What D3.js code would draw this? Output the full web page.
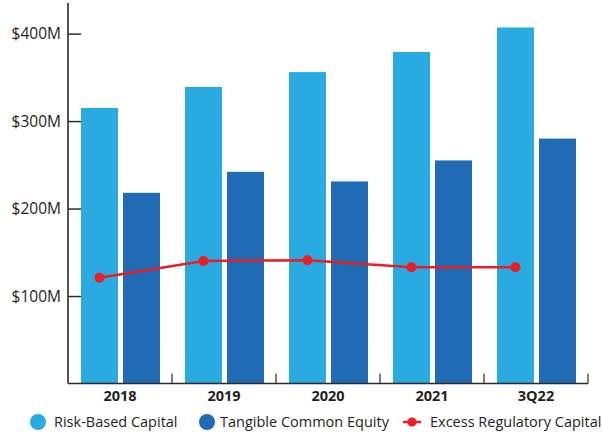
<!DOCTYPE html>
<html>
<head>
<meta charset="utf-8">
<script src="https://cdn.jsdelivr.net/npm/d3@7"></script>
<style>
  html, body { margin: 0; padding: 0; background: #fff; }
  svg { display: block; }
  text { font-family: "Open Sans", "Lato", sans-serif; fill: #231f20; }
</style>
</head>
<body>
<svg id="chart" width="603" height="437"></svg>
<script>
// Capital figures, $ millions
const categories = ["2018", "2019", "2020", "2021", "3Q22"];
const riskBasedCapital = [315, 339, 356, 379, 407];
const tangibleCommonEquity = [218, 242, 231, 255, 280];
const excessRegulatoryCapital = [121, 140, 141, 133, 133];
const yTicks = [100, 200, 300, 400];
const yTickLabels = ["$100M", "$200M", "$300M", "$400M"];

const colors = { rbc: "#29abe2", tce: "#1f6bb4", erc: "#ed1c24", axis: "#2b2b2b" };

const svg = d3.select("#chart");
const plotLeft = 68, plotRight = 588, plotBottom = 383.5, plotTop = 3;

const x = d3.scaleBand().domain(categories).range([plotLeft, plotRight]).paddingInner(0).paddingOuter(0);
const y = d3.scaleLinear().domain([0, 435]).range([plotBottom, plotTop]);

// inner layout of each category slot
const barW = 37, gap = 5, pad = 13;
const xRbc = c => x(c) + pad;
const xTce = c => x(c) + pad + barW + gap;

// bars
svg.append("g").selectAll("rect").data(categories).join("rect")
  .attr("x", c => xRbc(c)).attr("width", barW)
  .attr("y", (c, i) => y(riskBasedCapital[i]))
  .attr("height", (c, i) => y(0) - y(riskBasedCapital[i]))
  .attr("fill", colors.rbc);

svg.append("g").selectAll("rect").data(categories).join("rect")
  .attr("x", c => xTce(c)).attr("width", barW)
  .attr("y", (c, i) => y(tangibleCommonEquity[i]))
  .attr("height", (c, i) => y(0) - y(tangibleCommonEquity[i]))
  .attr("fill", colors.tce);

// y axis: line with inward ticks
const yAxis = d3.axisRight(y).tickValues(yTicks).tickSize(13).tickFormat("");
const gy = svg.append("g").attr("transform", `translate(${plotLeft},0)`).call(yAxis);
gy.select(".domain").remove();
gy.selectAll(".tick line").attr("stroke", colors.axis).attr("stroke-width", 1.5);
svg.append("line").attr("x1", plotLeft).attr("x2", plotLeft).attr("y1", plotTop).attr("y2", plotBottom)
  .attr("stroke", colors.axis).attr("stroke-width", 1.6);

svg.append("g").selectAll("text").data(yTicks).join("text")
  .attr("x", 61).attr("y", d => y(d)).attr("dy", "0.36em")
  .attr("text-anchor", "end").attr("font-size", 15.5)
  .text((d, i) => yTickLabels[i]);

// x axis: baseline with upward ticks at slot boundaries
svg.append("line").attr("x1", plotLeft).attr("x2", plotRight).attr("y1", plotBottom).attr("y2", plotBottom)
  .attr("stroke", colors.axis).attr("stroke-width", 1.6);
svg.append("g").selectAll("line").data(categories).join("line")
  .attr("x1", c => x(c) + x.bandwidth()).attr("x2", c => x(c) + x.bandwidth())
  .attr("y1", plotBottom).attr("y2", plotBottom - 10)
  .attr("stroke", colors.axis).attr("stroke-width", 1.2);

svg.append("g").selectAll("text").data(categories).join("text")
  .attr("x", c => x(c) + x.bandwidth() / 2).attr("y", 396).attr("dy", "0.36em")
  .attr("text-anchor", "middle").attr("font-size", 14.5).attr("font-weight", 700)
  .text(c => c);

// excess regulatory capital line
const line = d3.line()
  .x((d, i) => xRbc(categories[i]) + barW / 2)
  .y(d => y(d));
svg.append("path").datum(excessRegulatoryCapital)
  .attr("d", line).attr("fill", "none")
  .attr("stroke", colors.erc).attr("stroke-width", 2.5);
svg.append("g").selectAll("circle").data(excessRegulatoryCapital).join("circle")
  .attr("cx", (d, i) => xRbc(categories[i]) + barW / 2)
  .attr("cy", d => y(d)).attr("r", 5)
  .attr("fill", colors.erc);

// legend
const legendY = 422;
const lg = svg.append("g");
lg.append("circle").attr("cx", 38).attr("cy", legendY).attr("r", 8).attr("fill", colors.rbc);
lg.append("text").attr("x", 54).attr("y", legendY).attr("dy", "0.36em").attr("font-size", 14.5).text("Risk-Based Capital");
lg.append("circle").attr("cx", 207).attr("cy", legendY).attr("r", 8).attr("fill", colors.tce);
lg.append("text").attr("x", 220).attr("y", legendY).attr("dy", "0.36em").attr("font-size", 14.5).text("Tangible Common Equity");
lg.append("line").attr("x1", 403).attr("x2", 421).attr("y1", legendY).attr("y2", legendY)
  .attr("stroke", colors.erc).attr("stroke-width", 2.5);
lg.append("circle").attr("cx", 412).attr("cy", legendY).attr("r", 4.5).attr("fill", colors.erc);
lg.append("text").attr("x", 430).attr("y", legendY).attr("dy", "0.36em").attr("font-size", 14.5).text("Excess Regulatory Capital");
</script>
</body>
</html>
